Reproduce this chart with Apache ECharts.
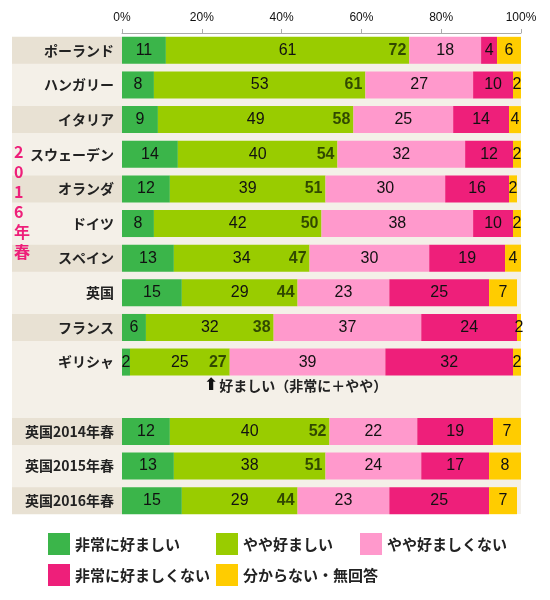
<!DOCTYPE html>
<html>
<head>
<meta charset="utf-8">
<script src="https://cdn.jsdelivr.net/npm/echarts@6/dist/echarts.min.js"></script>
<style>html,body{margin:0;padding:0;background:#fff;}#c{width:550px;height:600px;}</style>
</head>
<body>
<div id="c"></div>
<script>
const categories = ['ポーランド','ハンガリー','イタリア','スウェーデン','オランダ','ドイツ','スペイン','英国','フランス','ギリシャ','','英国2014年春','英国2015年春','英国2016年春'];
const seriesNames = ['非常に好ましい','やや好ましい','やや好ましくない','非常に好ましくない','分からない・無回答'];
const veryGood = [11,8,9,14,12,8,13,15,6,2,null,12,13,15];
const good     = [61,53,49,40,39,42,34,29,32,25,null,40,38,29];
const bad      = [18,27,25,32,30,38,30,23,37,39,null,22,24,23];
const veryBad  = [4,10,14,12,16,10,19,25,24,32,null,19,17,25];
const unknown  = [6,2,4,2,2,2,4,7,2,2,null,7,8,7];
const favorableTotal = [72,61,58,54,51,50,47,44,38,27,null,52,51,44];
const xTicks = [0,20,40,60,80,100];
const colors = ['#3bb54a','#99cc00','#ff99cc','#ee1f7a','#ffcc00'];
const darkRows = [0,2,4,6,8,11,13];

const JP = '"Noto Sans CJK JP", sans-serif';
const NUM = '"Liberation Sans", Arial, sans-serif';

const chart = echarts.init(document.getElementById('c'));
const values = [veryGood, good, bad, veryBad, unknown];

const barSeries = values.map((arr, k) => ({
  name: seriesNames[k],
  type: 'bar',
  stack: 'total',
  barCategoryGap: '22%',
  itemStyle: { color: colors[k] },
  label: {
    show: true,
    position: 'inside',
    color: '#111',
    fontFamily: NUM,
    fontSize: 16,
    formatter: p => p.value == null ? '' : String(p.value)
  },
  labelLayout: { hideOverlap: false },
  data: arr
}));

const sumSeries = {
  name: 'sum',
  type: 'scatter',
  symbolSize: 0,
  silent: true,
  z: 10,
  label: {
    show: true,
    position: 'left',
    distance: 3,
    color: '#172800',
    fontFamily: NUM,
    fontWeight: 'bold',
    fontSize: 16,
    formatter: p => String(favorableTotal[p.dataIndex])
  },
  data: categories.map((c, i) => favorableTotal[i] == null ? null : [veryGood[i] + good[i], i])
};

const legends = [
  {name: seriesNames[0], left: 48, top: 533},
  {name: seriesNames[1], left: 216, top: 533},
  {name: seriesNames[2], left: 360, top: 533},
  {name: seriesNames[3], left: 48, top: 564},
  {name: seriesNames[4], left: 216, top: 564}
].map(l => ({
  data: [l.name], left: l.left, top: l.top, icon: 'rect',
  itemWidth: 22, itemHeight: 22, itemGap: 5, padding: 0,
  selectedMode: false,
  textStyle: { fontFamily: JP, fontWeight: 'bold', fontSize: 15, color: '#222' }
}));

const richBase = { fontFamily: JP, fontWeight: 'bold', fontSize: 14, color: '#222', width: 102, height: 27, align: 'right', padding: [0, 8, 0, 0] };

chart.setOption({
  animation: false,
  backgroundColor: '#fff',
  grid: { left: 122, right: 29, top: 33, bottom: 82, containLabel: false },
  legend: legends,
  graphic: [
    { type: 'rect', z: -10, shape: { x: 12, y: 37, width: 509, height: 477 }, style: { fill: '#f4f0e8' } },
    { type: 'text', z: 100, left: 14, top: 142, style: { text: '2\n0\n1\n6\n年\n春', fill: '#ee1f7a', font: 'bold 16px ' + JP, lineHeight: 20, align: 'center' } },
    { type: 'text', z: 100, left: 204, top: 377, style: {
        text: '{a|⬆}{b|好ましい（非常に＋やや）}',
        rich: {
          a: { fontFamily: '"DejaVu Sans", sans-serif', fontWeight: 'bold', fontSize: 17, fill: '#111', padding: [0, 1, 0, 0] },
          b: { fontFamily: JP, fontWeight: 'bold', fontSize: 14, fill: '#222' }
        }
      } }
  ],
  xAxis: {
    type: 'value', position: 'top', min: 0, max: 100, interval: 20,
    axisLine: { show: true, lineStyle: { color: '#aaa' } },
    axisTick: { show: true, length: 4, lineStyle: { color: '#aaa' } },
    splitLine: { show: false },
    axisLabel: { formatter: v => xTicks.includes(v) ? v + '%' : '', margin: 9, color: '#111', fontFamily: NUM, fontSize: 12 }
  },
  yAxis: {
    type: 'category', inverse: true, data: categories,
    axisLine: { show: false }, axisTick: { show: false }, splitLine: { show: false },
    axisLabel: {
      margin: 0,
      interval: 0,
      formatter: (v, i) => v === '' ? '' : (darkRows.includes(i) ? '{d|' + v + '}' : '{l|' + v + '}'),
      rich: {
        d: Object.assign({}, richBase, { backgroundColor: '#e8e1d3' }),
        l: Object.assign({}, richBase)
      }
    }
  },
  series: barSeries.concat([sumSeries])
});
</script>
</body>
</html>
